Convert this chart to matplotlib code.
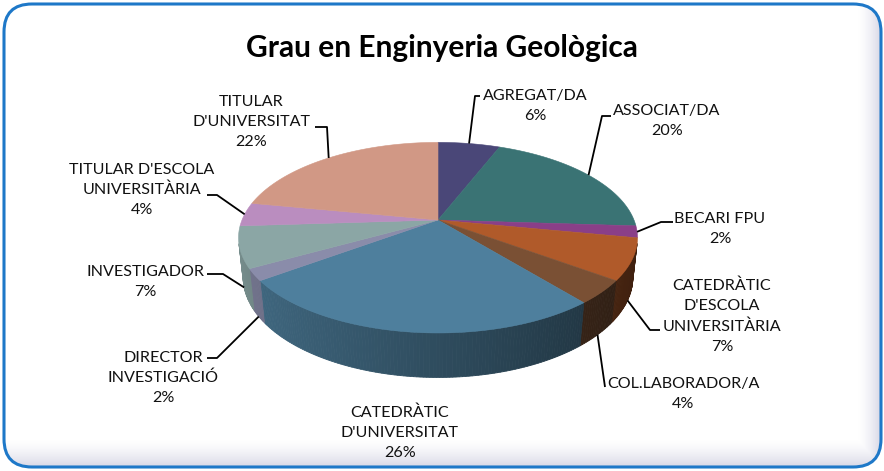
import numpy as np
import matplotlib
matplotlib.use("Agg")
import matplotlib.pyplot as plt
from matplotlib.patches import Polygon, FancyBboxPatch
from matplotlib.colors import to_rgb

# ---------------- data ----------------
categories = ["AGREGAT/DA", "ASSOCIAT/DA", "BECARI FPU",
              "CATEDRÀTIC\nD'ESCOLA\nUNIVERSITÀRIA", "COL.LABORADOR/A",
              "CATEDRÀTIC\nD'UNIVERSITAT", "DIRECTOR\nINVESTIGACIÓ",
              "INVESTIGADOR", "TITULAR D'ESCOLA\nUNIVERSITÀRIA",
              "TITULAR\nD'UNIVERSITAT"]
values = [6, 20, 2, 7, 4, 26, 2, 7, 4, 22]
colors = ["#4A4778", "#3A7374", "#8A3F88", "#B05A2A", "#7A5034",
          "#4E7F9D", "#8A8CAA", "#8BA6A5", "#BA8DBF", "#D19885"]
title = "Grau en Enginyeria Geològica"

# ---------------- layout ----------------
W, H = 884, 471
CX, CY, S = 438, 220, 196
ALPHA = np.radians(28)
DIST = 4.76
THICK = 0.23

label_pos = [(535, 106), (667, 121), (720, 229), (722, 316), (683, 394),
             (400, 433), (163, 378), (145, 282), (142, 190), (251, 122)]
# leader kink / end points (None = no leader)
leaders = [[(475, 96), (480, 96)], [(602, 116), (611, 116)],
           [(661, 222), (673, 222)], [(650, 330), (660, 330)],
           [(605, 387)], None, [(217, 358), (207, 358)],
           [(223, 274), (207, 274)], [(217, 195), (207, 195)],
           [(327, 127), (315, 127)]]

FONT = "Lato"


def proj(phi, Y=0.0, r=1.0):
    X = r * np.sin(phi)
    Z = r * np.cos(phi)
    yc = Y * np.cos(ALPHA) + Z * np.sin(ALPHA)
    zc = -Y * np.sin(ALPHA) + Z * np.cos(ALPHA)
    f = DIST / (DIST + zc)
    return CX + S * X * f, CY - S * yc * f


def side_visible(phi):
    # outward side normal faces the camera
    return (-1 - DIST * np.cos(ALPHA) * np.cos(phi)) > 0


fig = plt.figure(figsize=(W / 100, H / 100), dpi=100)
ax = fig.add_axes([0, 0, 1, 1])
ax.set_xlim(0, W)
ax.set_ylim(H, 0)
ax.axis("off")

# frame
frame = FancyBboxPatch((4, 4), 877, 463, boxstyle="round,pad=0,rounding_size=28",
                       facecolor="white", edgecolor="none", zorder=0)
ax.add_patch(frame)
# inner shadow gradient (bottom and right)
yy, xx = np.mgrid[0:H, 0:W] + 0.5
bt = np.clip((yy - 438) / 29.0, 0, 1) ** 1.6
rt = np.clip((xx - 857) / 24.0, 0, 1) ** 1.6
a = np.maximum(bt, rt) * 0.35
img = np.zeros((H, W, 4))
img[..., 0] = 0.55
img[..., 1] = 0.55
img[..., 2] = 0.72
img[..., 3] = a
im = ax.imshow(img, extent=(0, W, H, 0), zorder=1, aspect="auto", interpolation="bilinear")
im.set_clip_path(frame)
border = FancyBboxPatch((4, 4), 877, 463, boxstyle="round,pad=0,rounding_size=28",
                        facecolor="none", edgecolor="#1E78C8", linewidth=2.2, zorder=2)
ax.add_patch(border)
ax.set_xlim(0, W)
ax.set_ylim(H, 0)

# ---------------- pie ----------------
total = float(sum(values))
bounds = np.concatenate([[0], np.cumsum(values)]) / total * 2 * np.pi

# side walls
for i, col in enumerate(colors):
    a0, a1 = bounds[i], bounds[i + 1]
    n = max(int(np.degrees(a1 - a0) / 0.8), 2)
    phis = np.linspace(a0, a1, n + 1)
    base = np.array(to_rgb(col))
    for p0, p1 in zip(phis[:-1], phis[1:]):
        pm = 0.5 * (p0 + p1)
        if not side_visible(pm):
            continue
        shade = 0.6 - 0.25 * np.sin(pm)
        c = np.clip(base * shade, 0, 1)
        pts = [proj(p0, 0), proj(p1, 0), proj(p1, -THICK), proj(p0, -THICK)]
        ax.add_patch(Polygon(pts, closed=True, facecolor=c, edgecolor=c,
                             linewidth=0.6, zorder=3))

# top faces
for i, col in enumerate(colors):
    a0, a1 = bounds[i], bounds[i + 1]
    phis = np.linspace(a0, a1, max(int(np.degrees(a1 - a0)), 2) + 1)
    pts = [proj(0, 0, 0)] + [proj(p, 0) for p in phis]
    ax.add_patch(Polygon(pts, closed=True, facecolor=col, edgecolor=col,
                         linewidth=0.4, zorder=4))

# ---------------- labels ----------------
for i, cat in enumerate(categories):
    pct = values[i] / total * 100
    tx, ty = label_pos[i]
    ax.text(tx, ty, f"{cat}\n{pct:.0f}%", ha="center", va="center",
            multialignment="center", fontsize=11.6, family=FONT,
            color="#111111", linespacing=1.55, zorder=6)
    if leaders[i] is None:
        continue
    pm = 0.5 * (bounds[i] + bounds[i + 1])
    start = proj(pm, -THICK) if side_visible(pm) else proj(pm, 0)
    pts = [start] + leaders[i]
    ax.plot([p[0] for p in pts], [p[1] for p in pts], color="black",
            linewidth=1.3, zorder=5, solid_capstyle="butt")

ax.text(442, 57, title, ha="center", va="baseline", fontsize=21.5,
        fontweight="bold", family=FONT, color="black", zorder=6)

fig.savefig("out.png", dpi=100)
